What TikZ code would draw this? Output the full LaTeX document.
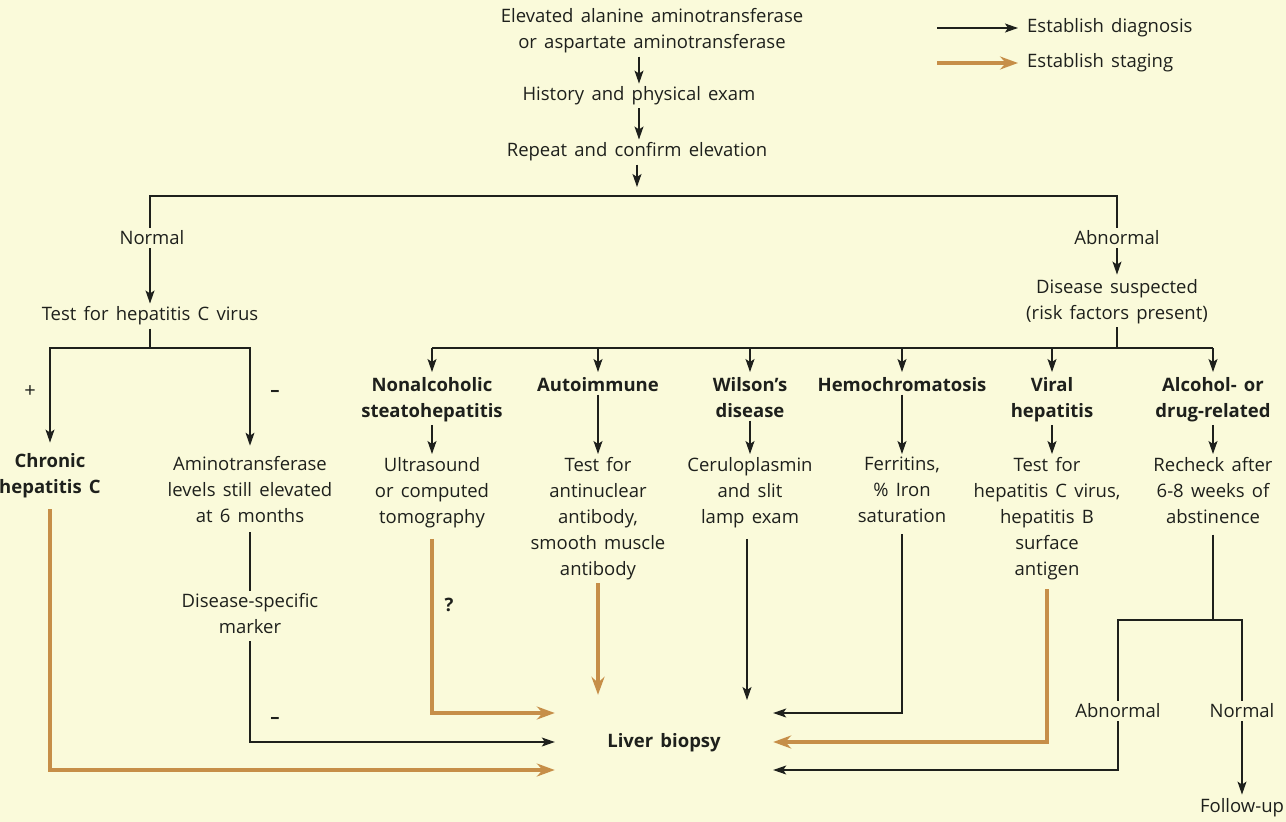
\documentclass[tikz,border=0pt]{standalone}
\usepackage{fontspec}
\setmainfont{Open Sans}[WordSpace=1.5]
\usetikzlibrary{arrows.meta}
\definecolor{bgc}{RGB}{250,250,218}
\definecolor{stgc}{RGB}{198,142,72}
\definecolor{ink}{RGB}{30,32,28}
\begin{document}
\begin{tikzpicture}[x=1pt,y=-1pt,
  every node/.style={font=\fontsize{18.5}{26}\selectfont, text=ink, align=center, inner sep=3pt},
  boldtxt/.style={font=\fontsize{18.5}{26}\selectfont\bfseries},
  conn/.style={draw=ink, line width=1.1pt},
  arr/.style={conn, -{Stealth[length=13pt,width=9pt,inset=3pt]}},
  stg/.style={draw=stgc, line width=4.5pt, -{Stealth[length=18pt,width=13pt,inset=6pt]}},
]
\fill[bgc] (0,0) rectangle (1286,822);
\useasboundingbox (0,0) rectangle (1286,822);

% legend
\node[anchor=west] (ldiag) at (1024,28) {Establish diagnosis};
\node[anchor=west] (lstag) at (1024,63) {Establish staging};
\coordinate (ld0) at (937,28);
\coordinate (ls0) at (937,63);
\draw[arr, shorten >=6pt] (ld0) -- (ldiag.west);
\draw[stg, shorten >=6pt] (ls0) -- (lstag.west);

% top chain
\node (top) at (652,31) {Elevated alanine aminotransferase\\or aspartate aminotransferase};
\node (hist) at (639,96) {History and physical exam};
\node (rep) at (637,152) {Repeat and confirm elevation};
\coordinate (jarr) at (0,187);
\coordinate (jt) at (0,196);
\draw[arr] (hist.north |- top.south) -- (hist.north);
\draw[arr] (hist.south) -- (rep.north -| hist.south);
\draw[arr] (rep.south) -- (rep.south |- jarr);

\node (normal) at (152,238) {Normal};
\node (abn) at (1117,238) {Abnormal};
\draw[conn] (normal.north -| 150,0) -- (150,196) -- (abn.north |- jt) -- (abn.north);

% left branch
\node (hcv) at (150,316) {Test for hepatitis C virus};
\draw[arr] (normal.south -| hcv.north) -- (hcv.north);
\coordinate (j2) at (0,348);
\node[boldtxt] (chc) at (50,476) {Chronic\\hepatitis C};
\node (amin) at (250,490) {Aminotransferase\\levels still elevated\\at 6 months};
\node[font=\fontsize{20}{26}\selectfont] (plus) at (30,392) {+};
\node (minus1) at (275,393) {\bfseries –};
\draw[arr, shorten >=8pt] (hcv.south) -- (hcv.south |- j2) -| (chc.north);
\draw[arr, shorten >=8pt] (hcv.south |- j2) -| (amin.north);
\node (dsm) at (250,614) {Disease-specific\\marker};
\draw[conn, shorten <=6pt] (amin.south) -- (dsm.north);
\node (minus2) at (275,720) {\bfseries –};

% right branch
\node (susp) at (1117,302) {Disease suspected\\(risk factors present)};
\draw[arr, shorten >=2pt] (abn.south) -- (susp.north);
\coordinate (j3) at (0,348);

\node[boldtxt, anchor=north] (nash) at (432,374) {Nonalcoholic\\steatohepatitis};
\node[boldtxt, anchor=north] (auto) at (598,374) {Autoimmune};
\node[boldtxt, anchor=north] (wil) at (750,374) {Wilson's\\disease};
\node[boldtxt, anchor=north] (hemo) at (902,374) {Hemochromatosis};
\node[boldtxt, anchor=north] (vir) at (1052,374) {Viral\\hepatitis};
\node[boldtxt, anchor=north] (alc) at (1213,374) {Alcohol- or\\drug-related};

\draw[conn] (susp.south) -- (susp.south |- j3);
\draw[conn] (nash.north |- j3) -- (alc.north |- j3);
\foreach \n in {nash,auto,wil,hemo,vir,alc}
  \draw[arr, shorten >=2pt] (\n.north |- j3) -- (\n.north);

\node[anchor=north] (us) at (432,454) {Ultrasound\\or computed\\tomography};
\node[anchor=north] (ana) at (598,454) {Test for\\antinuclear\\antibody,\\smooth muscle\\antibody};
\node[anchor=north] (cer) at (750,454) {Ceruloplasmin\\and slit\\lamp exam};
\node[anchor=north] (fer) at (902,454) {Ferritins,\\\% Iron\\saturation};
\node[anchor=north] (vt) at (1047,454) {Test for\\hepatitis C virus,\\hepatitis B\\surface\\antigen};
\node[anchor=north] (rech) at (1213,454) {Recheck after\\6-8 weeks of\\abstinence};

\draw[arr] (nash.south) -- (us.north -| nash.south);
\draw[arr] (auto.south) -- (ana.north -| auto.south);
\draw[arr] (wil.south) -- (cer.north -| wil.south);
\draw[arr] (hemo.south) -- (fer.north -| hemo.south);
\draw[arr] (vir.south) -- (vt.north -| vir.south);
\draw[arr] (alc.south) -- (rech.north -| alc.south);

% liver biopsy
\node[boldtxt, minimum width=218pt, minimum height=96pt, inner sep=0pt] (lb) at (664,743) {Liver biopsy};
\coordinate (r1) at (0,713);
\coordinate (r2) at (0,742);
\coordinate (r3) at (0,770);

\node[boldtxt] (q) at (449,605) {?};

\draw[stg, shorten <=8pt] (us.south) -- (us.south |- r1) -- (lb.west |- r1);
\draw[stg] (ana.south) -- (ana.south |- lb.north);
\draw[arr, shorten <=8pt] (cer.south -| 747,0) -- (747,700);
\draw[arr, shorten <=8pt] (fer.south) -- (fer.south |- r1) -- (lb.east |- r1);
\draw[arr, shorten <=4pt] (dsm.south) -- (dsm.south |- r2) -- (lb.west |- r2);
\draw[stg, shorten <=8pt] (chc.south) -- (chc.south |- r3) -- (lb.west |- r3);
\draw[stg, shorten <=6pt] (vt.south) -- (vt.south |- r2) -- (lb.east |- r2);

% alcohol recheck
\node (abn2) at (1118,711) {Abnormal};
\node (norm2) at (1242,711) {Normal};
\node (fu) at (1242,808) {Follow-up};
\coordinate (j4) at (0,620);
\draw[conn, shorten <=8pt] (rech.south) -- (rech.south |- j4);
\draw[conn] (abn2.north) -- (abn2.north |- j4) -- (norm2.north |- j4) -- (norm2.north);
\draw[arr] (abn2.south) -- (abn2.south |- r3) -- (lb.east |- r3);
\draw[arr, shorten >=1pt] (norm2.south) -- (fu.north);
\end{tikzpicture}
\end{document}
